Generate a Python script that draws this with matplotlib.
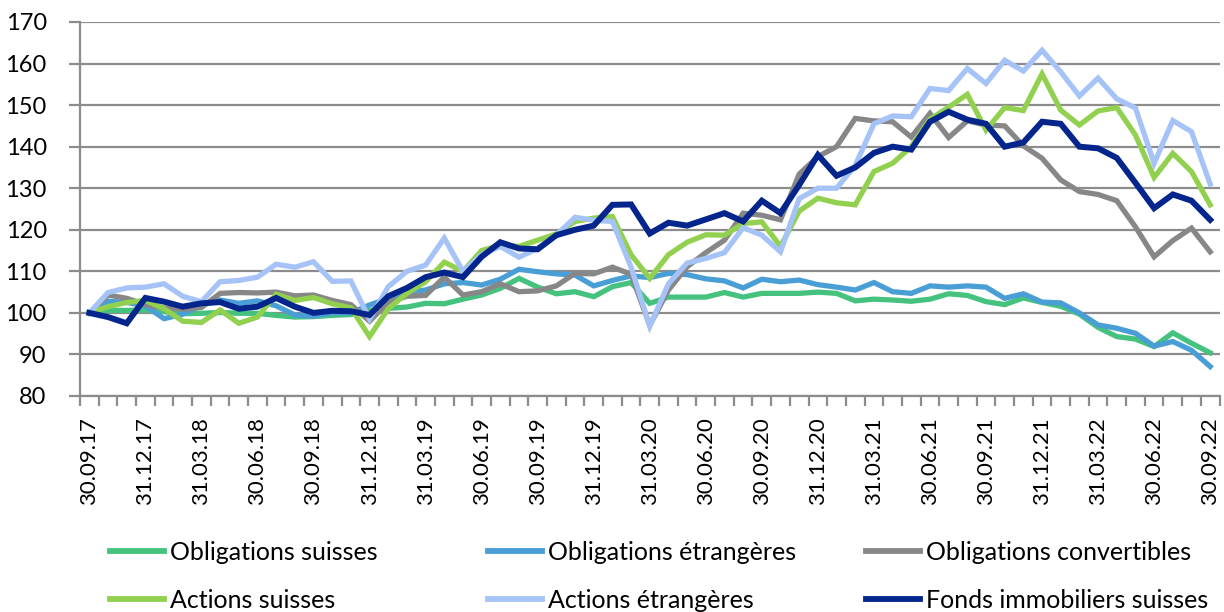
import matplotlib
matplotlib.use("Agg")
import matplotlib.pyplot as plt
from matplotlib.ticker import FixedLocator, NullFormatter

# ---- data -------------------------------------------------------------
n_months = 61  # monthly values, 30.09.17 ... 30.09.22
tick_labels = ["30.09.17", "31.12.17", "31.03.18", "30.06.18", "30.09.18", "31.12.18",
               "31.03.19", "30.06.19", "30.09.19", "31.12.19", "31.03.20", "30.06.20",
               "30.09.20", "31.12.20", "31.03.21", "30.06.21", "30.09.21", "31.12.21",
               "31.03.22", "30.06.22", "30.09.22"]

obligations_suisses = [
    100, 100.6, 100.6, 100.7, 100.3, 99.8, 99.9, 100.1, 99.9, 99.9,
    99.4, 99.0, 99.1, 99.4, 99.6, 100.6, 101.1, 101.4, 102.3, 102.2,
    103.3, 104.3, 105.9, 108.3, 106.2, 104.6, 105.1, 103.9, 106.3, 107.3,
    102.3, 103.8, 103.8, 103.8, 104.9, 103.8, 104.7, 104.7, 104.7, 105.0,
    104.7, 102.9, 103.3, 103.1, 102.8, 103.3, 104.6, 104.2, 102.7, 102.0,
    103.6, 102.5, 101.6, 99.7, 96.5, 94.3, 93.7, 91.9, 95.2, 92.7, 90.4]

obligations_etrangeres = [
    100, 102.8, 102.5, 101.7, 98.6, 99.7, 101.8, 103.1, 102.3, 102.9,
    101.7, 99.5, 99.2, 100.0, 100.0, 101.9, 103.5, 104.9, 105.5, 107.0,
    107.3, 106.7, 108.1, 110.5, 109.9, 109.4, 109.1, 106.5, 107.8, 108.9,
    108.5, 109.5, 109.2, 108.2, 107.7, 106.0, 108.1, 107.5, 107.9, 106.8,
    106.2, 105.5, 107.3, 105.1, 104.7, 106.5, 106.2, 106.5, 106.2, 103.5,
    104.6, 102.6, 102.4, 100.0, 97.1, 96.3, 95.1, 92.0, 93.1, 91.0, 87.1]

obligations_convertibles = [
    100, 104.3, 103.5, 102.0, 101.2, 100.9, 101.3, 104.7, 104.9, 104.8,
    105.0, 104.1, 104.3, 103.0, 102.0, 98.0, 102.5, 104.0, 104.2, 108.6,
    104.3, 105.1, 107.0, 105.1, 105.3, 106.5, 109.5, 109.4, 111.0, 109.3,
    97.0, 105.5, 111.1, 114.5, 117.5, 124.0, 123.5, 122.4, 133.4, 137.6,
    140.0, 146.8, 146.2, 146.0, 142.3, 148.0, 142.2, 146.2, 145.2, 145.0,
    140.2, 137.2, 132.0, 129.2, 128.5, 127.0, 120.7, 113.5, 117.4, 120.4, 114.7]

actions_suisses = [
    100, 101.5, 102.5, 103.0, 101.0, 98.0, 97.7, 100.7, 97.5, 99.0,
    104.5, 103.0, 103.7, 102.2, 101.2, 94.3, 101.0, 104.7, 107.5, 112.2,
    110.0, 115.0, 116.3, 116.0, 117.5, 119.0, 122.0, 122.8, 123.2, 114.0,
    108.3, 114.0, 117.0, 118.8, 118.7, 121.5, 121.9, 116.0, 124.5, 127.6,
    126.5, 126.0, 134.0, 136.0, 140.0, 146.6, 149.5, 152.6, 144.0, 149.4,
    148.7, 157.5, 148.8, 145.2, 148.6, 149.4, 142.8, 132.6, 138.4, 134.0, 126.0]

actions_etrangeres = [
    100, 104.9, 106.0, 106.2, 107.0, 104.0, 102.7, 107.5, 107.8, 108.6,
    111.7, 111.0, 112.3, 107.6, 107.7, 98.5, 106.3, 110.0, 111.5, 118.0,
    110.0, 114.0, 116.0, 113.4, 115.5, 118.7, 123.0, 122.3, 122.0, 111.0,
    96.8, 107.0, 112.0, 113.1, 114.5, 120.5, 118.7, 114.7, 127.5, 130.0,
    130.0, 135.5, 145.5, 147.4, 147.2, 154.0, 153.5, 158.8, 155.2, 160.8,
    158.2, 163.2, 158.0, 152.2, 156.5, 151.5, 149.3, 136.0, 146.3, 143.6, 131.0]

fonds_immobiliers_suisses = [
    100, 99.0, 97.5, 103.6, 102.7, 101.5, 102.3, 102.6, 101.0, 101.5,
    103.6, 101.5, 100.0, 100.5, 100.4, 99.5, 104.0, 106.0, 108.6, 109.7,
    108.6, 113.5, 117.0, 115.5, 115.3, 118.7, 120.0, 121.0, 126.0, 126.1,
    119.1, 121.7, 121.0, 122.5, 124.0, 122.0, 127.0, 124.0, 130.8, 138.0,
    133.0, 135.0, 138.5, 140.0, 139.3, 146.0, 148.4, 146.5, 145.5, 140.0,
    141.0, 146.0, 145.5, 140.0, 139.6, 137.3, 131.3, 125.2, 128.5, 127.0, 122.4]

series_names = ["Obligations suisses", "Obligations étrangères", "Obligations convertibles",
                "Actions suisses", "Actions étrangères", "Fonds immobiliers suisses"]
series_values = [obligations_suisses, obligations_etrangeres, obligations_convertibles,
                 actions_suisses, actions_etrangeres, fonds_immobiliers_suisses]
series_colors = ["#45C37E", "#4A9ED6", "#878787", "#92D050", "#A6C3F7", "#04268C"]
series_widths = [3.8, 3.8, 3.8, 3.8, 3.8, 4.3]

# ---- figure -------------------------------------------------------------
plt.rcParams["font.family"] = ["Lato", "DejaVu Sans"]
W, H = 1224, 612
fig = plt.figure(figsize=(W / 100, H / 100), dpi=100)
ax_left, ax_right, ax_top, ax_bottom = 80, 1219.5, 22, 396
ax = fig.add_axes([ax_left / W, 1 - ax_bottom / H, (ax_right - ax_left) / W, (ax_bottom - ax_top) / H])

x = list(range(n_months))
handles = []
for name, vals, col, lw in zip(series_names, series_values, series_colors, series_widths):
    h, = ax.plot(x, vals, color=col, lw=lw, solid_joinstyle="miter", label=name, zorder=3)
    handles.append(h)

grid_col = "#8C8C8C"
ax.set_xlim(-0.5, n_months - 0.5)
ax.set_ylim(80, 170)
ax.set_yticks(range(80, 171, 10))
ax.yaxis.grid(True, color=grid_col, lw=1.6, zorder=1)
ax.set_axisbelow(True)

label_pos = list(range(0, n_months, 3))
ax.xaxis.set_major_locator(FixedLocator(label_pos))
ax.set_xticklabels(tick_labels, rotation=90, va="top", ha="center")
ax.xaxis.set_minor_locator(FixedLocator([i - 0.5 for i in range(n_months + 1)]))
ax.xaxis.set_minor_formatter(NullFormatter())
ax.tick_params(axis="x", which="major", length=0, pad=15, labelsize=16, colors="black")
ax.tick_params(axis="x", which="minor", length=7, width=1.6, color=grid_col, direction="out")
ax.tick_params(axis="y", length=8, width=1.6, color=grid_col, pad=16, labelsize=17)

for s in ["top", "right"]:
    ax.spines[s].set_visible(False)
for s in ["left", "bottom"]:
    ax.spines[s].set_color(grid_col)
    ax.spines[s].set_linewidth(1.6)

# legend: three columns, two rows (row-wise order like the original)
col_x = [110, 488, 866]
for c in range(3):
    hs = [handles[c], handles[c + 3]]
    leg = fig.legend(hs, [h.get_label() for h in hs], loc="upper left",
                     bbox_to_anchor=(col_x[c] / W, 1 - 541 / H), frameon=False,
                     fontsize=18, handlelength=2.15, handletextpad=0.25,
                     labelspacing=1.0, borderpad=0, borderaxespad=0)
    for lh in leg.get_lines():
        lh.set_linewidth(4.2)

fig.savefig("out.png", dpi=100)
